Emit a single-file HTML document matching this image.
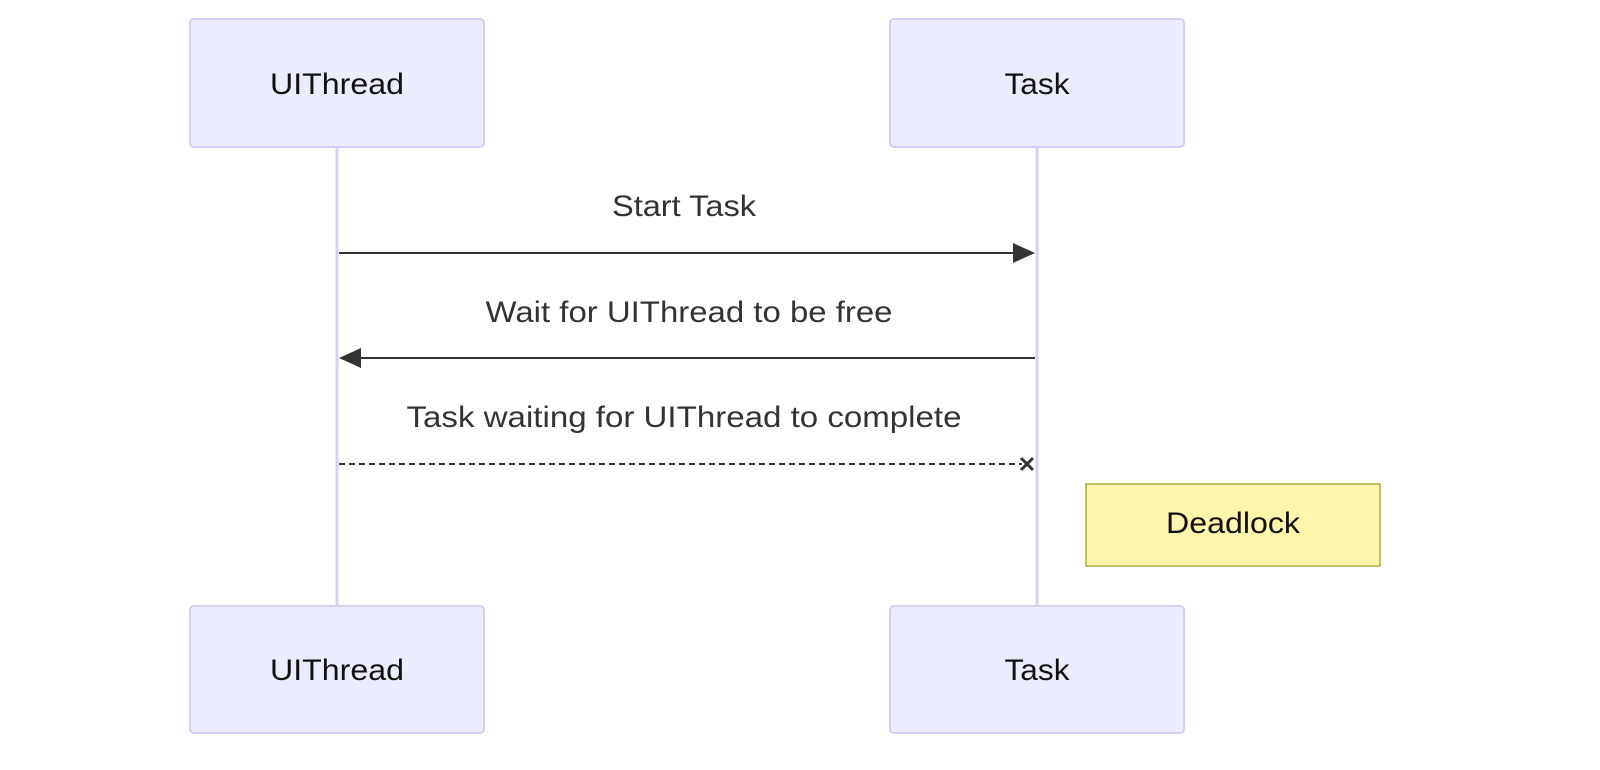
<!DOCTYPE html>
<html><head><meta charset="utf-8"><style>
html,body{margin:0;padding:0;background:#fff;width:1600px;height:770px;overflow:hidden}
text{font-family:"Liberation Sans",sans-serif;}
</style></head><body>
<svg width="1600" height="770" viewBox="0 0 1600 770" xmlns="http://www.w3.org/2000/svg">
<line x1="337" y1="147" x2="337" y2="606" stroke="#d9cff5" stroke-width="3"/>
<line x1="1037" y1="147" x2="1037" y2="606" stroke="#d9cff5" stroke-width="3"/>
<rect x="190" y="19" width="294" height="128" rx="4" fill="#ececff" stroke="#d6ccf4" stroke-width="2"/>
<rect x="890" y="19" width="294" height="128" rx="4" fill="#ececff" stroke="#d6ccf4" stroke-width="2"/>
<rect x="190" y="606" width="294" height="127" rx="4" fill="#ececff" stroke="#d6ccf4" stroke-width="2"/>
<rect x="890" y="606" width="294" height="127" rx="4" fill="#ececff" stroke="#d6ccf4" stroke-width="2"/>
<g font-size="30" fill="#111" text-anchor="middle">
<text x="337" y="94" textLength="134" lengthAdjust="spacingAndGlyphs">UIThread</text>
<text x="1037" y="94" textLength="65" lengthAdjust="spacingAndGlyphs">Task</text>
<text x="337" y="680" textLength="134" lengthAdjust="spacingAndGlyphs">UIThread</text>
<text x="1037" y="680" textLength="65" lengthAdjust="spacingAndGlyphs">Task</text>
</g>
<g font-size="30" fill="#333" text-anchor="middle">
<text x="684" y="216" textLength="144" lengthAdjust="spacingAndGlyphs">Start Task</text>
<text x="689" y="322" textLength="407" lengthAdjust="spacingAndGlyphs">Wait for UIThread to be free</text>
<text x="684" y="427" textLength="555" lengthAdjust="spacingAndGlyphs">Task waiting for UIThread to complete</text>
</g>
<line x1="339" y1="253" x2="1022" y2="253" stroke="#333" stroke-width="2"/>
<path d="M1013,243 L1035,253 L1013,263 z" fill="#333"/>
<line x1="1035" y1="358" x2="352" y2="358" stroke="#333" stroke-width="2"/>
<path d="M361,348 L339,358 L361,368 z" fill="#333"/>
<line x1="339" y1="464" x2="1022" y2="464" stroke="#333" stroke-width="2" stroke-dasharray="6,4"/>
<path d="M1021,458 L1033,470 M1033,458 L1021,470" stroke="#333" stroke-width="3"/>
<rect x="1086" y="484" width="294" height="82" fill="#fff5ad" stroke="#aaaa33" stroke-width="1.5"/>
<text x="1233" y="533" font-size="30" fill="#111" text-anchor="middle" textLength="134" lengthAdjust="spacingAndGlyphs">Deadlock</text>
</svg>
</body></html>
